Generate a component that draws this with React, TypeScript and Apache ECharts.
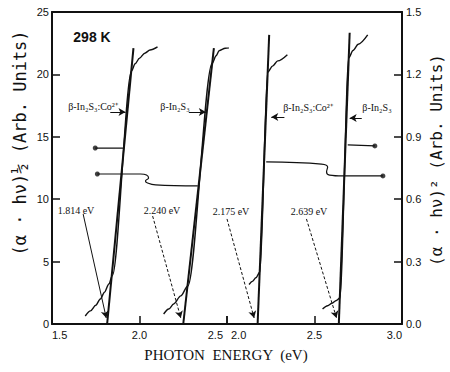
import React, { useEffect, useRef } from "react";
import * as echarts from "echarts";

// (αhν)^1/2 panel (left axis), photon energy 1.5–2.5 eV
const sqrtCoCurve: number[][] = [
  [1.69, 0.64], [1.72, 1.05], [1.75, 1.5], [1.776, 2.0], [1.8, 2.55], [1.825, 3.2], [1.845, 3.9],
  [1.955, 20.3], [1.975, 20.85], [2.0, 21.3], [2.03, 21.7], [2.06, 21.95], [2.103, 22.2],
];
const sqrtCoFit: number[][] = [[1.815, 0], [1.9655, 22.1]];
const sqrtPureCurve: number[][] = [
  [2.138, 0.8], [2.167, 1.2], [2.195, 1.6], [2.236, 2.25], [2.276, 3.05],
  [2.4155, 20.9], [2.438, 21.5], [2.455, 21.9], [2.49, 22.1], [2.569, 22.3],
];
const sqrtPureFit: number[][] = [[2.25, 0], [2.425, 22.1]];

// (αhν)^2 panel (right axis), photon energy 2.0–3.0 eV
const sqCoCurve: number[][] = [
  [2.126, 0.19], [2.145, 0.205], [2.165, 0.222], [2.188, 0.25],
  [2.2325, 1.21], [2.26, 1.24], [2.29, 1.265], [2.345, 1.295],
];
const sqCoFit: number[][] = [[2.175, 0], [2.241, 1.39]];
const sqPureCurve: number[][] = [
  [2.546, 0.072], [2.575, 0.088], [2.6, 0.1], [2.625, 0.113], [2.645, 0.125],
  [2.696, 1.28], [2.72, 1.315], [2.75, 1.345], [2.804, 1.39],
];
const sqPureFit: number[][] = [[2.639, 0], [2.701, 1.4]];

// axis-indicator arrows
const sqrtIndicatorUpper: number[][] = [[1.747, 14.1], [1.908, 14.1]];
const sqrtIndicatorLower: number[][] = [
  [1.759, 12.02], [2.006, 12.02], [2.04, 11.94], [2.052, 11.7], [2.034, 11.46],
  [2.046, 11.3], [2.092, 11.14], [2.333, 11.06],
];
const sqrtDots: number[][] = [[1.747, 14.1], [1.759, 12.02]];
const sqIndicatorUpper: number[][] = [[2.69, 0.861], [2.845, 0.856]];
const sqIndicatorLower: number[][] = [
  [2.224, 0.779], [2.54, 0.769], [2.575, 0.755], [2.569, 0.731], [2.586, 0.716],
  [2.661, 0.712], [2.891, 0.712],
];
const sqDots: number[][] = [[2.845, 0.856], [2.891, 0.712]];

// band-gap arrows [from, to]
const sqrtGapArrows: number[][][] = [
  [[1.678, 8.81], [1.81, 0.48]],
  [[2.075, 8.65], [2.236, 0.48]],
];
const sqGapArrows: number[][][] = [
  [[2.0, 0.505], [2.155, 0.029]],
  [[2.454, 0.505], [2.626, 0.029]],
];
const sqrtLabelArrows: number[][][] = [
  [[1.833, 16.99], [1.92, 16.99]],
  [[2.282, 16.99], [2.379, 16.99]],
];
const sqLabelArrows: number[][][] = [
  [[2.328, 0.995], [2.253, 0.995]],
  [[2.77, 0.99], [2.701, 0.99]],
];

const gapLabels = ["1.814 eV", "2.240 eV", "2.175 eV", "2.639 eV"];
const sampleLabels = ["β-In₂S₃:Co²⁺", "β-In₂S₃", "β-In₂S₃:Co²⁺", "β-In₂S₃"];

const leftY = { min: 0, max: 25, interval: 5 };
const rightY = { min: 0, max: 1.5, interval: 0.3 };
const leftX = { min: 1.5, max: 2.5, interval: 0.5 };
const rightX = { min: 2.0, max: 3.0, interval: 0.5 };

const BLACK = "#111";

export default function App() {
  const ref = useRef<HTMLDivElement>(null);
  useEffect(() => {
    const chart = echarts.init(ref.current!, null, { renderer: "svg" });
    const tickFont = { color: BLACK, fontSize: 11, fontFamily: "Liberation Sans, Arial, sans-serif" };
    const axisLine = { show: true, lineStyle: { color: BLACK, width: 2 } };
    const axisTick = { show: true, inside: true, length: 8, lineStyle: { color: BLACK, width: 1.5 } };
    const xBase = (grid: number, r: any, padMin: boolean, padMax: boolean) => ({
      type: "value",
      gridIndex: grid,
      position: "bottom",
      min: r.min,
      max: r.max,
      interval: r.interval,
      axisLine,
      axisTick,
      splitLine: { show: false },
      axisLabel: {
        ...tickFont,
        margin: 5,
        formatter: (v: number) => {
          const s = v.toFixed(1);
          if (padMin && v <= r.min) return "{l|" + s + "}";
          if (padMax && v >= r.max) return "{r|" + s + "}";
          return s;
        },
        rich: {
          l: { ...tickFont, padding: [0, 0, 0, 4] },
          r: { ...tickFont, padding: [0, 4, 0, 0] },
        },
        alignMinLabel: "left",
        alignMaxLabel: "right",
      },
    });
    const xTop = (grid: number, r: any) => ({
      type: "value",
      gridIndex: grid,
      position: "top",
      min: r.min,
      max: r.max,
      axisLine,
      axisTick: { show: false },
      axisLabel: { show: false },
      splitLine: { show: false },
    });
    const lineS = (data: number[][], xi: number, yi: number, width: number, extra: any = {}) => ({
      type: "line",
      xAxisIndex: xi,
      yAxisIndex: yi,
      data,
      symbol: "none",
      lineStyle: { color: BLACK, width },
      silent: true,
      ...extra,
    });
    const arrowMark = (pairs: number[][][], dashedFlags: boolean[]) => ({
      silent: true,
      symbol: ["none", "arrow"],
      symbolSize: [6, 7],
      label: { show: false },
      lineStyle: { color: BLACK, width: 1 },
      emphasis: { disabled: true },
      data: pairs.map((p, i) => [
        { coord: p[0], lineStyle: { color: BLACK, width: 1, type: dashedFlags[i] ? [3, 2] : "solid" } },
        { coord: p[1] },
      ]),
    });
    const textStyle = (text: string, font: string, extra: any = {}) => ({
      text,
      font,
      fill: BLACK,
      textAlign: "center",
      textVerticalAlign: "middle",
      ...extra,
    });

    const option: any = {
      animation: false,
      backgroundColor: "#fff",
      grid: [
        { left: 52, top: 12, width: 175, height: 312 },
        { left: 227, top: 12, width: 175, height: 312 },
      ],
      xAxis: [
        xBase(0, leftX, false, true),
        xBase(1, rightX, true, false),
        xTop(0, leftX),
        xTop(1, rightX),
      ],
      yAxis: [
        {
          type: "value",
          gridIndex: 0,
          position: "left",
          ...leftY,
          axisLine,
          axisTick,
          splitLine: { show: false },
          axisLabel: { ...tickFont, margin: 3 },
        },
        {
          type: "value",
          gridIndex: 1,
          position: "right",
          ...rightY,
          axisLine,
          axisTick,
          splitLine: { show: false },
          axisLabel: { ...tickFont, margin: 4, formatter: (v: number) => v.toFixed(1) },
        },
      ],
      series: [
        lineS(sqrtCoCurve, 0, 0, 1.4, { smooth: 0.3, smoothMonotone: "x" }),
        lineS(sqrtCoFit, 0, 0, 2, { markLine: arrowMark(sqrtGapArrows, [false, true]) }),
        lineS(sqrtPureCurve, 0, 0, 1.4, { smooth: 0.3, smoothMonotone: "x", clip: false }),
        lineS(sqrtPureFit, 0, 0, 2, { markLine: arrowMark(sqrtLabelArrows, [false, false]) }),
        lineS(sqCoCurve, 1, 1, 1.4, { smooth: 0.3, smoothMonotone: "x" }),
        lineS(sqCoFit, 1, 1, 2, { markLine: arrowMark(sqGapArrows, [true, true]) }),
        lineS(sqPureCurve, 1, 1, 1.4, { smooth: 0.3, smoothMonotone: "x" }),
        lineS(sqPureFit, 1, 1, 2, { markLine: arrowMark(sqLabelArrows, [false, false]) }),
        lineS(sqrtIndicatorUpper, 0, 0, 1.2),
        lineS(sqrtIndicatorLower, 0, 0, 1.2, { smooth: 0.4 }),
        lineS(sqIndicatorUpper, 1, 1, 1.2),
        lineS(sqIndicatorLower, 1, 1, 1.2, { smooth: 0.4 }),
        {
          type: "scatter", xAxisIndex: 0, yAxisIndex: 0, data: sqrtDots,
          symbolSize: 5, itemStyle: { color: BLACK }, silent: true,
        },
        {
          type: "scatter", xAxisIndex: 1, yAxisIndex: 1, data: sqDots,
          symbolSize: 5, itemStyle: { color: BLACK }, silent: true,
        },
      ],
      graphic: [
        { type: "text", x: 92, y: 37, style: textStyle("298 K", "bold 14px Liberation Sans, Arial, sans-serif") },
        { type: "text", x: 93, y: 106, style: textStyle(sampleLabels[0], "10px Liberation Serif, serif") },
        { type: "text", x: 175, y: 106, style: textStyle(sampleLabels[1], "10px Liberation Serif, serif") },
        { type: "text", x: 308, y: 107, style: textStyle(sampleLabels[2], "10px Liberation Serif, serif") },
        { type: "text", x: 377, y: 107, style: textStyle(sampleLabels[3], "10px Liberation Serif, serif") },
        { type: "text", x: 76, y: 210, style: textStyle(gapLabels[0], "10px Liberation Serif, serif") },
        { type: "text", x: 162, y: 210, style: textStyle(gapLabels[1], "10px Liberation Serif, serif") },
        { type: "text", x: 231, y: 211, style: textStyle(gapLabels[2], "10px Liberation Serif, serif") },
        { type: "text", x: 309, y: 211, style: textStyle(gapLabels[3], "10px Liberation Serif, serif") },
        {
          type: "text", x: 226, y: 355,
          style: textStyle("PHOTON  ENERGY  (eV)", "15px Liberation Serif, serif"),
        },
        {
          type: "text", x: 20, y: 143, rotation: Math.PI / 2,
          style: textStyle("(α · hν)½ (Arb. Units)", "17px DejaVu Sans Mono, monospace"),
        },
        {
          type: "text", x: 436, y: 160, rotation: Math.PI / 2,
          style: textStyle("(α · hν)² (Arb. Units)", "16px DejaVu Sans Mono, monospace"),
        },
      ],
    };
    chart.setOption(option);
    return () => chart.dispose();
  }, []);
  return (
    <div
      ref={ref}
      style={{ position: "absolute", left: 0, top: 0, width: 450, height: 372, background: "#fff" }}
    />
  );
}
